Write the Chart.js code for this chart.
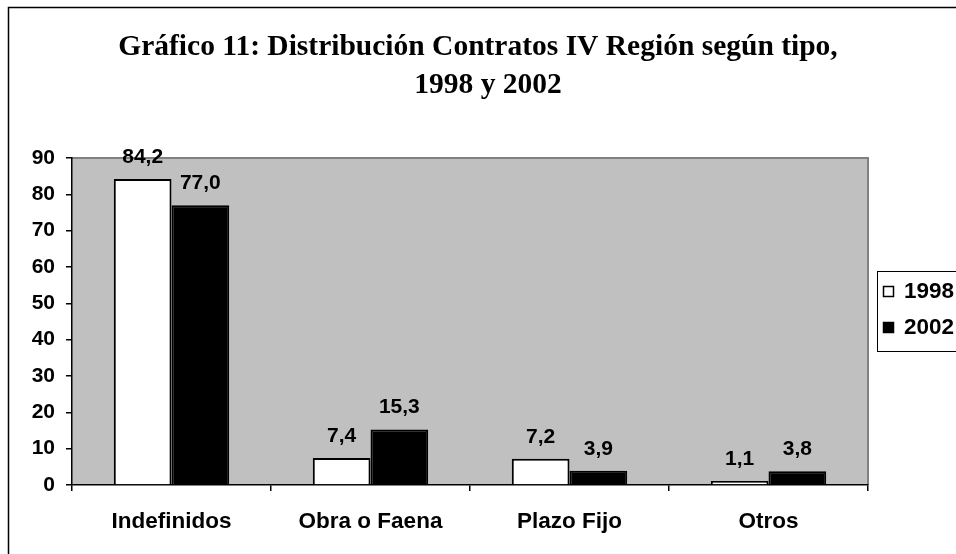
<!DOCTYPE html>
<html>
<head>
<meta charset="utf-8">
<script src="https://cdn.jsdelivr.net/npm/chart.js@4"></script>
<style>
  body { margin: 0; background: #fff; }
  canvas { display: block; }
</style>
</head>
<body>
<canvas id="chart" width="956" height="554"></canvas>
<script>
// Data
const categories = ['Indefinidos', 'Obra o Faena', 'Plazo Fijo', 'Otros'];
const seriesLabels = ['1998', '2002'];
const values1998 = [84.2, 7.4, 7.2, 1.1];
const values2002 = [77.0, 15.3, 3.9, 3.8];
const yTicks = [0, 10, 20, 30, 40, 50, 60, 70, 80, 90];
const titleLines = ['Gráfico 11: Distribución Contratos IV Región según tipo,', '1998 y 2002'];

const FONT = '"Liberation Sans", Arial, sans-serif';
const SERIF = '"Liberation Serif", "Times New Roman", serif';

const fmt = v => v.toFixed(1).replace('.', ',');

// Frame, title, plot background
const decorPlugin = {
    id: 'decor',
    beforeDraw(chart) {
        const ctx = chart.ctx;
        const a = chart.chartArea;
        ctx.save();
        ctx.fillStyle = '#fff';
        ctx.fillRect(0, 0, chart.width, chart.height);
        // outer frame (runs past the right/bottom edge)
        ctx.strokeStyle = '#000';
        ctx.lineWidth = 1.5;
        ctx.strokeRect(8.5, 7.5, chart.width + 10, chart.height + 10);
        // title
        ctx.fillStyle = '#000';
        ctx.font = 'bold 29.5px ' + SERIF;
        ctx.textAlign = 'center';
        ctx.textBaseline = 'alphabetic';
        ctx.fillText(titleLines[0], 478, 55);
        ctx.fillText(titleLines[1], 488, 93);
        // plot area
        ctx.fillStyle = '#c0c0c0';
        ctx.fillRect(a.left, a.top, a.right - a.left, a.bottom - a.top);
        ctx.strokeStyle = '#808080';
        ctx.lineWidth = 2;
        ctx.beginPath();
        ctx.moveTo(a.left, a.top);
        ctx.lineTo(a.right, a.top);
        ctx.lineTo(a.right, a.bottom);
        ctx.stroke();
        ctx.restore();
    },
    afterDatasetsDraw(chart) {
        const ctx = chart.ctx;
        ctx.save();
        ctx.fillStyle = '#000';
        ctx.font = 'bold 21px ' + FONT;
        ctx.textAlign = 'center';
        ctx.textBaseline = 'middle';
        chart.data.datasets.forEach((ds, i) => {
            chart.getDatasetMeta(i).data.forEach((bar, j) => {
                ctx.fillText(fmt(ds.data[j]), bar.x, bar.y - 22);
            });
        });
        ctx.restore();
    },
    afterDraw(chart) {
        // legend box
        const ctx = chart.ctx;
        ctx.save();
        ctx.strokeStyle = '#000';
        ctx.lineWidth = 1;
        ctx.strokeRect(877.5, 271.5, 100, 80);
        ctx.font = 'bold 22.5px ' + FONT;
        ctx.textBaseline = 'middle';
        ctx.textAlign = 'left';
        chart.data.datasets.forEach((ds, i) => {
            const y = 291 + i * 36;
            ctx.fillStyle = ds.backgroundColor;
            ctx.fillRect(883, y - 5, 11, 11);
            ctx.strokeStyle = '#000';
            ctx.lineWidth = 1.5;
            ctx.strokeRect(883.5, y - 4.5, 10, 10);
            ctx.fillStyle = '#000';
            ctx.fillText(ds.label, 904, y + 1);
        });
        ctx.restore();
    }
};

new Chart(document.getElementById('chart'), {
    type: 'bar',
    data: {
        labels: categories,
        datasets: [
            { label: seriesLabels[0], data: values1998, backgroundColor: '#ffffff', borderColor: '#000', borderWidth: 2 },
            { label: seriesLabels[1], data: values2002, backgroundColor: '#000000', borderColor: '#000', borderWidth: 2 }
        ]
    },
    options: {
        responsive: false,
        animation: false,
        events: [],
        layout: { padding: { left: 0, right: 88, top: 158, bottom: 0 } },
        categoryPercentage: 0.58,
        barPercentage: 1,
        plugins: { legend: { display: false }, title: { display: false }, tooltip: { enabled: false } },
        scales: {
            x: {
                afterFit: s => { s.height = 69; },
                grid: { display: true, drawOnChartArea: false, offset: true, tickLength: 6, color: '#000', lineWidth: 1.5 },
                border: { color: '#000', width: 1.5 },
                ticks: { color: '#000', padding: 17, font: { family: FONT, size: 22.5, weight: 'bold' } }
            },
            y: {
                min: 0,
                max: 90,
                afterFit: s => { s.width = 72; },
                afterBuildTicks: s => { s.ticks = yTicks.map(v => ({ value: v })); },
                grid: { drawOnChartArea: false, tickLength: 6, color: '#000', lineWidth: 1.5 },
                border: { color: '#000', width: 1.5 },
                ticks: { color: '#000', padding: 11, font: { family: FONT, size: 21, weight: 'bold' } }
            }
        }
    },
    plugins: [decorPlugin]
});
</script>
</body>
</html>
